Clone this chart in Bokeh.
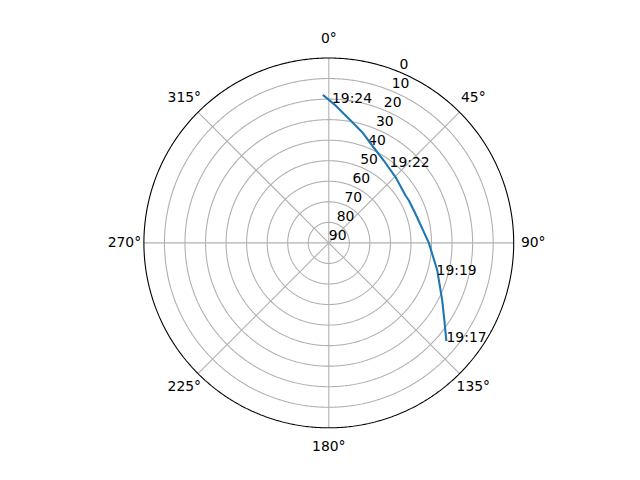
import numpy as np
from bokeh.plotting import figure
from bokeh.models import Range1d
from bokeh.core.properties import value
from bokeh.embed import file_html
from bokeh.resources import INLINE

# ---- data (satellite pass) ----
# azimuth (deg, clockwise from north) and elevation (deg), in time order
pass_az = [129.9, 123.9, 116.9, 104.3, 90.0, 71.4, 62.1, 58.3, 45.4, 33.7, 24.0, 16.8, 9.2, 2.8, 357.7]
pass_el = [15.4, 22.2, 28.1, 35.5, 41.3, 45.5, 45.9, 46.1, 44.4, 41.8, 38.1, 33.7, 28.8, 23.0, 17.9]

label_times = ["19:17", "19:19", "19:22", "19:24"]
label_az = [130.0, 106.8, 38.5, 1.3]
label_el = [15.2, 35.2, 42.5, 22.0]

theta_ticks = [0, 45, 90, 135, 180, 225, 270, 315]
theta_labels = ["0°", "45°", "90°", "135°", "180°", "225°", "270°", "315°"]
r_ticks = [0, 10, 20, 30, 40, 50, 60, 70, 80, 90]
r_labels = ["0", "10", "20", "30", "40", "50", "60", "70", "80", "90"]
r_label_angle = 22.5

# ---- geometry (pixels) ----
R = 184.9              # outer radius in px
CX, CY = 328.3, 242.4  # centre in picture pixels
W, H = 624, 464
FONT = "DejaVu Sans"
FS = "13.9px"


def to_xy(az, el):
    az = np.radians(np.asarray(az, dtype=float))
    r = R * (90.0 - np.asarray(el, dtype=float)) / 90.0
    return r * np.sin(az), r * np.cos(az)


p = figure(width=W, height=H, output_backend="svg", toolbar_location=None,
           x_axis_type=None, y_axis_type=None, min_border=0,
           x_range=Range1d(-CX, W - CX),
           y_range=Range1d(CY - H, CY))
p.grid.visible = False
p.outline_line_color = None
p.background_fill_color = "white"
p.border_fill_color = "white"

# grid circles (elevation rings)
t = np.linspace(0, 2 * np.pi, 721)
for ev in r_ticks[1:-1]:
    rr = R * (90 - ev) / 90
    p.line(rr * np.sin(t), rr * np.cos(t), line_color="#b0b0b0", line_width=1.1)

# spokes
for a in theta_ticks:
    x, y = to_xy([a, a], [90, 0])
    p.line(x, y, line_color="#b0b0b0", line_width=1.1)

# outer circle
p.line(R * np.sin(t), R * np.cos(t), line_color="black", line_width=1.1)

# radial labels
rx, ry = to_xy([r_label_angle] * len(r_ticks), r_ticks)
p.text(x=rx, y=ry, text=r_labels, text_font=value(FONT), text_font_size=FS,
       text_align="left", text_baseline="alphabetic", x_offset=0, y_offset=-8,
       text_color="black")

# theta labels
ta = np.radians(theta_ticks)
p.text(x=(R + 19.5) * np.sin(ta), y=(R + 19.5) * np.cos(ta), text=theta_labels,
       text_font=value(FONT), text_font_size=FS, text_align="center",
       text_baseline="middle", y_offset=-1, text_color="black")

# pass curve
px, py = to_xy(pass_az, pass_el)
p.line(px, py, line_color="#1f77b4", line_width=2.1, line_join="round")

# time labels
lx, ly = to_xy(label_az, label_el)
p.text(x=lx, y=ly, text=label_times, text_font=value(FONT), text_font_size=FS,
       text_align="left", text_baseline="alphabetic", y_offset=-5,
       text_color="black")

open("out.html", "w").write(file_html(p, INLINE))
